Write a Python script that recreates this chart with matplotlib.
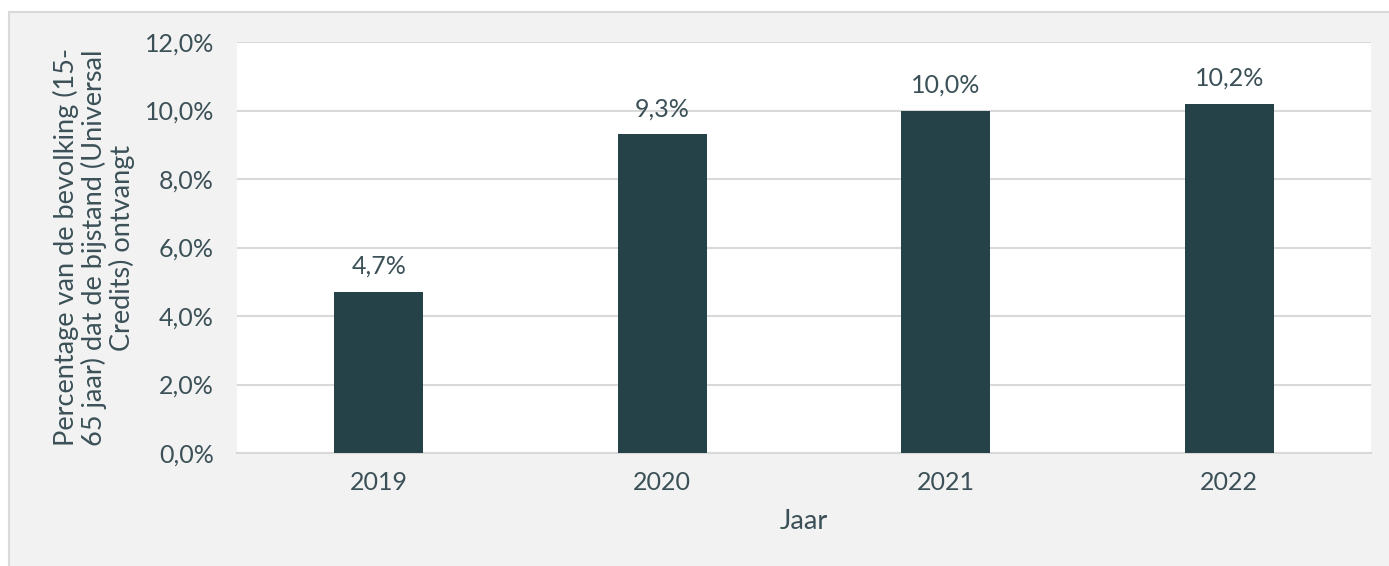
import matplotlib.pyplot as plt
from matplotlib.patches import Rectangle
from matplotlib.ticker import FuncFormatter

# Aandeel 15-65 jarigen dat Universal Credits ontvangt
jaren = ["2019", "2020", "2021", "2022"]
percentages = [4.7, 9.3, 10.0, 10.2]
yticks = [0, 2, 4, 6, 8, 10, 12]

text_color = "#3b5157"
bar_color = "#264249"
grid_color = "#d9d9d9"
fs_num = 18
fs_label = 19.5

plt.rcParams["font.family"] = ["Lato", "DejaVu Sans"]

W, H = 1389, 566
fig = plt.figure(figsize=(W / 100, H / 100), dpi=100)
fig.patch.set_facecolor("white")

# grijs kader achter de grafiek
fig.patches.append(Rectangle((9 / W, -0.1), 1, 1.1 - 12 / H, transform=fig.transFigure,
                             facecolor="#f2f2f2", edgecolor="#d9d9d9", lw=1.5, zorder=-5))

ax = fig.add_axes([237 / W, 1 - 453 / H, (1371 - 237) / W, (453 - 42) / H])
ax.set_facecolor("white")

x = range(len(jaren))
bars = ax.bar(x, percentages, width=0.315, color=bar_color, zorder=3)
for xi, v in zip(x, percentages):
    ax.text(xi, v + 0.42, f"{v:.1f}%".replace(".", ","), ha="center", va="bottom",
            fontsize=fs_num, color=text_color)

ax.set_xlim(-0.5, len(jaren) - 0.5)
ax.set_ylim(0, 12)
ax.set_yticks(yticks)
ax.yaxis.set_major_formatter(FuncFormatter(lambda v, p: f"{v:.1f}%".replace(".", ",")))
ax.set_xticks(list(x))
ax.set_xticklabels(jaren)
ax.grid(axis="y", color=grid_color, lw=1.5, zorder=0)
ax.tick_params(length=0, labelsize=fs_num, labelcolor=text_color)
ax.tick_params(axis="y", pad=16.5)
ax.tick_params(axis="x", pad=13)
for side in ["top", "right", "left"]:
    ax.spines[side].set_visible(False)
ax.spines["bottom"].set_color(grid_color)
ax.spines["bottom"].set_linewidth(1.5)

ax.set_xlabel("Jaar", fontsize=fs_label, color=text_color, labelpad=11)
ax.set_ylabel("Percentage van de bevolking (15-\n65 jaar) dat de bijstand (Universal\nCredits) ontvangt",
              fontsize=fs_label, color=text_color, labelpad=7, linespacing=1.08)

fig.savefig("out.png", dpi=100, facecolor=fig.get_facecolor())
